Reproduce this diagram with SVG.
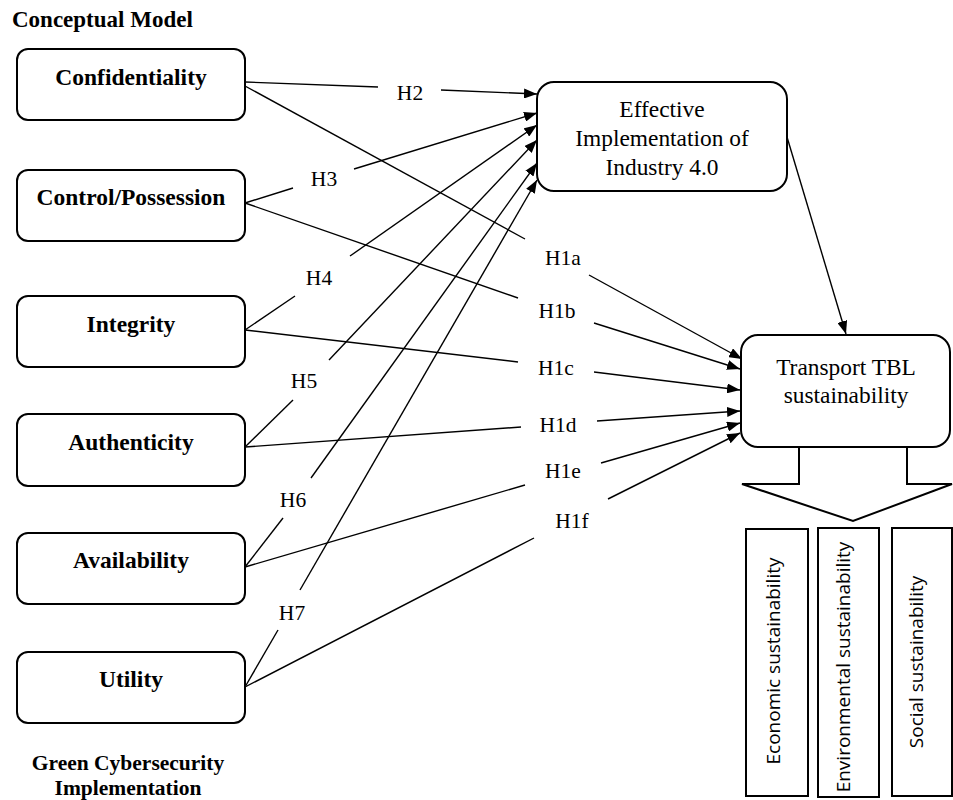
<svg xmlns="http://www.w3.org/2000/svg" width="953" height="800" viewBox="0 0 953 800">
<style>
  .bg { fill: #ffffff; }
  .box { fill: #ffffff; stroke: #000000; stroke-width: 2; }
  .lbl { font-family: "Liberation Serif", "Times New Roman", serif; font-weight: bold; font-size: 23.5px; fill: #000; text-anchor: middle; }
  .title { font-family: "Liberation Serif", "Times New Roman", serif; font-weight: bold; font-size: 23px; fill: #000; }
  .foot { font-family: "Liberation Serif", "Times New Roman", serif; font-weight: bold; font-size: 21.5px; fill: #000; text-anchor: middle; }
  .reg { font-family: "Liberation Serif", "Times New Roman", serif; font-size: 23.4px; fill: #000; text-anchor: middle; }
  .h { font-family: "Liberation Serif", "Times New Roman", serif; font-size: 21.5px; fill: #000; text-anchor: middle; }
  .sans { font-family: "Open Sans", "Noto Sans", sans-serif; font-size: 19px; fill: #000; text-anchor: middle; }
  .ln { stroke: #000; stroke-width: 1.4; fill: none; }
  .arr { stroke: #000; stroke-width: 1.4; fill: none; marker-end: url(#ah); }
</style>
<defs>
  <marker id="ah" markerUnits="userSpaceOnUse" markerWidth="13" markerHeight="10" refX="13" refY="5" orient="auto">
    <path d="M0,0 L13,5 L0,10 z" fill="#000"/>
  </marker>
</defs>
<rect class="bg" x="0" y="0" width="953" height="800"/>

<text class="title" x="12" y="27">Conceptual Model</text>
<text class="foot" x="128" y="770">Green Cybersecurity</text>
<text class="foot" x="128" y="795">Implementation</text>

<g id="connectors">
  <line class="ln" x1="245" y1="82" x2="378" y2="87"/>
  <line class="arr" x1="441" y1="90" x2="537" y2="94"/>
  <line class="ln" x1="245" y1="86" x2="525" y2="239"/>
  <line class="arr" x1="589" y1="275" x2="742" y2="359"/>
  <line class="ln" x1="245" y1="203" x2="293" y2="188"/>
  <line class="arr" x1="354" y1="169" x2="537" y2="113"/>
  <line class="ln" x1="245" y1="203" x2="518" y2="298"/>
  <line class="arr" x1="594" y1="323" x2="740" y2="369"/>
  <line class="ln" x1="245" y1="330" x2="295" y2="296"/>
  <line class="arr" x1="350" y1="256" x2="537" y2="125"/>
  <line class="ln" x1="245" y1="330" x2="518" y2="362"/>
  <line class="arr" x1="594" y1="372" x2="740" y2="390"/>
  <line class="ln" x1="245" y1="447" x2="293" y2="400"/>
  <line class="arr" x1="329" y1="360" x2="537" y2="140"/>
  <line class="ln" x1="245" y1="447" x2="521" y2="427"/>
  <line class="arr" x1="597" y1="421" x2="740" y2="411"/>
  <line class="ln" x1="245" y1="567" x2="283" y2="518"/>
  <line class="arr" x1="311" y1="478" x2="537" y2="163"/>
  <line class="ln" x1="245" y1="567" x2="525" y2="485"/>
  <line class="arr" x1="601" y1="463" x2="740" y2="423"/>
  <line class="ln" x1="245" y1="687" x2="278" y2="630"/>
  <line class="arr" x1="300" y1="590" x2="537" y2="180"/>
  <line class="ln" x1="245" y1="687" x2="534" y2="538"/>
  <line class="arr" x1="608" y1="499" x2="740" y2="433"/>
  <line class="arr" x1="787" y1="137" x2="846" y2="334"/>
  <text class="h" x="410" y="100">H2</text>
  <text class="h" x="324" y="186">H3</text>
  <text class="h" x="319" y="285">H4</text>
  <text class="h" x="304" y="388">H5</text>
  <text class="h" x="293" y="507">H6</text>
  <text class="h" x="292" y="620">H7</text>
  <text class="h" x="563" y="265">H1a</text>
  <text class="h" x="557" y="318">H1b</text>
  <text class="h" x="556" y="375">H1c</text>
  <text class="h" x="558" y="432">H1d</text>
  <text class="h" x="563" y="478">H1e</text>
  <text class="h" x="572" y="528">H1f</text>
</g>

<g id="confidentiality">
  <rect class="box" x="17" y="49" width="228" height="71" rx="11"/>
  <text class="lbl" x="131" y="85">Confidentiality</text>
</g>
<g id="control">
  <rect class="box" x="17" y="170" width="228" height="71" rx="11"/>
  <text class="lbl" x="131" y="205">Control/Possession</text>
</g>
<g id="integrity">
  <rect class="box" x="17" y="296" width="228" height="71" rx="11"/>
  <text class="lbl" x="131" y="332">Integrity</text>
</g>
<g id="authenticity">
  <rect class="box" x="17" y="414" width="228" height="72" rx="11"/>
  <text class="lbl" x="131" y="450">Authenticity</text>
</g>
<g id="availability">
  <rect class="box" x="17" y="533" width="228" height="71" rx="11"/>
  <text class="lbl" x="131" y="568">Availability</text>
</g>
<g id="utility">
  <rect class="box" x="17" y="652" width="228" height="71" rx="11"/>
  <text class="lbl" x="131" y="687">Utility</text>
</g>

<g id="effective">
  <rect class="box" x="537" y="82" width="250" height="109" rx="17"/>
  <text class="reg" x="662" y="117">Effective</text>
  <text class="reg" x="662" y="146">Implementation of</text>
  <text class="reg" x="662" y="175">Industry 4.0</text>
</g>

<g id="transport">
  <rect class="box" x="741" y="335" width="209" height="112" rx="17"/>
  <text class="reg" x="846" y="375">Transport TBL</text>
  <text class="reg" x="846" y="403">sustainability</text>
</g>

<g id="block-arrow">
  <polyline class="box" points="799,448 799,484 742,484 853,521 952,484 907,484 907,448" fill="none"/>
</g>

<g id="economic">
  <rect class="box" x="746" y="529" width="62" height="267"/>
  <text class="sans" transform="translate(780,661) rotate(-90)">Economic sustainability</text>
</g>
<g id="environmental">
  <rect class="box" x="818" y="528" width="61" height="269"/>
  <text class="sans" transform="translate(850,667) rotate(-90)">Environmental sustainability</text>
</g>
<g id="social">
  <rect class="box" x="892" y="528" width="60" height="268"/>
  <text class="sans" transform="translate(923,662) rotate(-90)">Social sustainability</text>
</g>
</svg>
